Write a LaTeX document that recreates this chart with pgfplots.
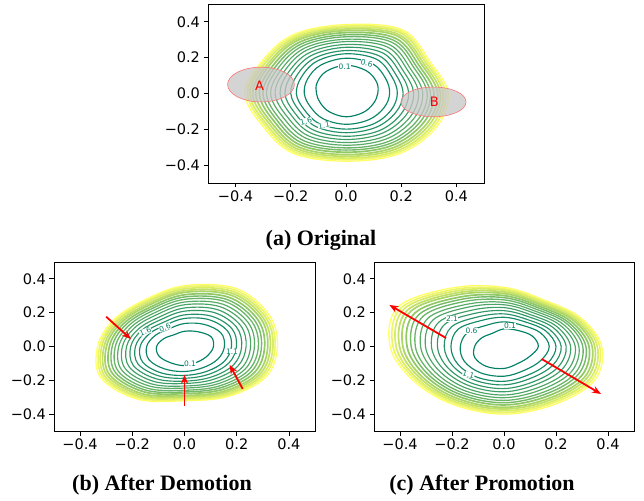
\documentclass[border=0pt]{standalone}
\usepackage{fontspec}
\setmainfont{Liberation Serif}
\newfontfamily\dejavu{DejaVu Sans}
\usepackage{pgfplots}
\pgfplotsset{compat=1.18}
\usepackage{pgfplotstable}
\usetikzlibrary{arrows.meta}

\definecolor{gn}{rgb}{0,0.5,0.4}
\definecolor{yl}{rgb}{1,1,0.4}
\tikzset{
  rg0/.style={draw=yl!0!gn, line width=1.15pt},
  rg1/.style={draw=yl!4!gn, line width=1.15pt},
  rg2/.style={draw=yl!8!gn, line width=1.15pt},
  rg3/.style={draw=yl!14!gn, line width=1.15pt},
  rg4/.style={draw=yl!19!gn, line width=1.15pt},
  rg5/.style={draw=yl!24!gn, line width=1.15pt},
  rg6/.style={draw=yl!29!gn, line width=1.15pt},
  rg7/.style={draw=yl!35!gn, line width=1.2pt},
  rg8/.style={draw=yl!41!gn, line width=1.3pt},
  rg9/.style={draw=yl!46!gn, line width=1.4pt},
  rg10/.style={draw=yl!57!gn, line width=1.7pt},
  rg11/.style={draw=yl!67!gn, line width=1.7pt},
  rg12/.style={draw=yl!76!gn, line width=1.7pt},
  rg13/.style={draw=yl!85!gn, line width=1.7pt},
  rg14/.style={draw=yl!93!gn, line width=1.6pt},
  rg15/.style={draw=yl!100!gn, line width=1.3pt},
}

% polar contour radii: angle a (deg), radius of ring r0 (innermost, 0.1) ... r15 (outermost)
\pgfplotstableread{
a r0 r1 r2 r3 r4 r5 r6 r7 r8 r9 r10 r11 r12 r13 r14 r15
0 .115 .158 .186 .207 .227 .245 .263 .278 .294 .306 .319 .332 .342 .352 .361 .370
30 .128 .166 .191 .209 .227 .242 .258 .271 .285 .296 .307 .318 .327 .336 .344 .352
60 .147 .192 .221 .242 .263 .281 .300 .315 .331 .344 .357 .371 .381 .392 .401 .410
90 .158 .197 .222 .240 .258 .274 .290 .303 .317 .328 .340 .351 .360 .369 .377 .385
120 .143 .183 .209 .228 .247 .264 .281 .295 .309 .321 .333 .345 .354 .363 .372 .380
150 .121 .161 .186 .205 .224 .240 .256 .270 .284 .296 .307 .319 .328 .338 .346 .354
180 .107 .151 .180 .200 .221 .239 .257 .273 .288 .301 .314 .327 .338 .348 .357 .366
210 .107 .149 .176 .195 .215 .232 .249 .264 .279 .291 .303 .315 .325 .335 .343 .352
240 .119 .164 .194 .215 .236 .255 .273 .289 .305 .319 .332 .345 .356 .366 .376 .385
270 .130 .172 .199 .219 .239 .257 .274 .289 .304 .316 .328 .341 .351 .361 .369 .378
300 .123 .168 .197 .218 .240 .258 .277 .293 .309 .322 .335 .348 .359 .370 .379 .388
330 .114 .159 .188 .209 .230 .249 .267 .283 .299 .312 .325 .338 .349 .360 .369 .378
}\tabA
\pgfplotstableread{
a r0 r1 r2 r3 r4 r5 r6 r7 r8 r9 r10 r11 r12 r13 r14 r15
0 .111 .153 .180 .199 .219 .236 .253 .268 .283 .295 .307 .319 .329 .339 .347 .356
30 .117 .161 .189 .210 .230 .248 .266 .282 .297 .310 .323 .336 .346 .356 .365 .374
60 .101 .151 .184 .207 .231 .252 .272 .290 .308 .322 .337 .352 .364 .375 .386 .396
90 .090 .136 .166 .187 .209 .228 .247 .263 .279 .293 .306 .320 .330 .341 .351 .360
120 .080 .120 .146 .164 .183 .199 .216 .230 .244 .256 .267 .279 .288 .298 .306 .314
150 .092 .130 .154 .172 .190 .205 .221 .234 .247 .259 .270 .281 .290 .299 .306 .314
180 .107 .145 .170 .188 .206 .222 .238 .252 .265 .277 .288 .299 .308 .317 .325 .333
210 .113 .157 .185 .206 .226 .244 .262 .278 .293 .306 .319 .332 .342 .352 .361 .370
240 .110 .153 .180 .200 .220 .238 .255 .270 .285 .298 .310 .323 .333 .343 .351 .360
270 .113 .148 .171 .188 .205 .219 .234 .246 .259 .269 .279 .290 .298 .306 .314 .321
300 .104 .144 .170 .189 .208 .224 .241 .255 .269 .281 .293 .305 .314 .324 .332 .340
330 .104 .148 .176 .196 .217 .235 .253 .268 .283 .296 .309 .322 .332 .342 .351 .360
}\tabB
\pgfplotstableread{
a r0 r1 r2 r3 r4 r5 r6 r7 r8 r9 r10 r11 r12 r13 r14 r15
0 .132 .174 .200 .220 .239 .256 .274 .288 .303 .315 .327 .339 .349 .359 .368 .376
30 .125 .162 .185 .202 .220 .235 .250 .263 .276 .286 .297 .308 .316 .325 .333 .340
60 .109 .144 .167 .183 .200 .214 .229 .241 .253 .264 .274 .284 .292 .301 .308 .315
90 .104 .146 .173 .193 .212 .230 .247 .261 .276 .289 .301 .313 .323 .333 .341 .350
120 .090 .143 .177 .202 .226 .248 .270 .288 .307 .323 .338 .354 .366 .378 .389 .400
150 .100 .163 .204 .233 .263 .289 .315 .337 .359 .378 .396 .415 .429 .444 .457 .470
180 .113 .168 .204 .230 .256 .279 .302 .321 .341 .357 .373 .389 .402 .415 .427 .438
210 .130 .176 .206 .228 .250 .269 .288 .305 .321 .335 .348 .362 .373 .384 .393 .403
240 .136 .180 .209 .229 .250 .268 .286 .302 .317 .330 .343 .356 .367 .377 .386 .395
270 .130 .176 .206 .227 .249 .268 .287 .303 .319 .333 .346 .360 .370 .381 .391 .400
300 .113 .161 .192 .214 .237 .256 .276 .293 .310 .324 .338 .352 .363 .374 .384 .394
330 .115 .164 .195 .218 .241 .261 .282 .299 .316 .330 .345 .359 .370 .382 .392 .402
}\tabC

\newcommand{\drawrings}[1]{%
  \pgfplotsinvokeforeach{15,14,13,12,11,10,9,8,7,6,5,4,3,2,1,0}{%
    \addplot[smooth cycle, tension=0.6, data cs=polar, mark=none, rg##1] table[x=a, y=r##1] {#1};%
  }%
}

\pgfplotsset{
  panel/.style={
    scale only axis, anchor=south west,
    xmin=-0.5, xmax=0.5, ymin=-0.5, ymax=0.5,
    axis line style={line width=0.8pt},
    tick align=outside, tick pos=left, major tick length=4.5pt,
    every tick/.style={black, line width=0.8pt},
    xtick={-0.4,-0.2,0,0.2,0.4}, ytick={-0.4,-0.2,0,0.2,0.4},
    xticklabels={−0.4,−0.2,0.0,0.2,0.4},
    yticklabels={−0.4,−0.2,0.0,0.2,0.4},
    tick label style={font=\dejavu\fontsize{14.5}{16}\selectfont},
  },
}
\tikzset{
  clab/.style={font=\dejavu\fontsize{7.5}{8}\selectfont, text=gn, fill=white, inner sep=0.2pt},
  redarrow/.style={red, line width=1.8pt, -{Stealth[length=9pt,width=7pt]}},
}

\begin{document}
\begin{tikzpicture}
\useasboundingbox (0pt,0pt) rectangle (644pt,500pt);

% (a) Original
\begin{axis}[panel, at={(208pt,317pt)}, width=276pt, height=179pt]
\drawrings{\tabA}
\node[clab] at (axis cs:-0.005,0.152) {0.1};
\node[clab, rotate=-12] at (axis cs:0.075,0.168) {0.6};
\node[clab, rotate=15] at (axis cs:-0.145,-0.155) {1.6};
\node[clab, rotate=10] at (axis cs:-0.08,-0.178) {1.1};
\draw[draw=red!55, fill=gray!45, fill opacity=0.75, line width=0.6pt] (axis cs:-0.308,0.05) ellipse [x radius=0.121, y radius=0.097];
\draw[draw=red!55, fill=gray!45, fill opacity=0.75, line width=0.6pt] (axis cs:0.317,-0.047) ellipse [x radius=0.118, y radius=0.083];
\node[text=red, font=\dejavu\fontsize{13}{14}\selectfont] at (axis cs:-0.313,0.041) {A};
\node[text=red, font=\dejavu\fontsize{13}{14}\selectfont] at (axis cs:0.32,-0.047) {B};
\end{axis}

% (b) After Demotion
\begin{axis}[panel, at={(54pt,69pt)}, width=261pt, height=169pt]
\drawrings{\tabB}
\node[clab] at (axis cs:0.021,-0.104) {0.1};
\node[clab, rotate=20] at (axis cs:-0.075,0.112) {0.6};
\node[clab, rotate=20] at (axis cs:-0.15,0.088) {1.6};
\node[clab] at (axis cs:0.182,-0.03) {1.1};
\draw[redarrow] (axis cs:-0.30,0.176) -- (axis cs:-0.205,0.044);
\draw[redarrow] (axis cs:0,-0.35) -- (axis cs:0,-0.167);
\draw[redarrow] (axis cs:0.223,-0.251) -- (axis cs:0.173,-0.109);
\end{axis}

% (c) After Promotion
\begin{axis}[panel, at={(374pt,69pt)}, width=260pt, height=169pt]
\drawrings{\tabC}
\node[clab] at (axis cs:0.023,0.123) {0.1};
\node[clab] at (axis cs:-0.125,0.092) {0.6};
\node[clab] at (axis cs:-0.2,0.165) {2.1};
\node[clab, rotate=-15] at (axis cs:-0.137,-0.167) {1.1};
\draw[redarrow] (axis cs:-0.223,0.05) -- (axis cs:-0.441,0.246);
\draw[redarrow] (axis cs:0.145,-0.074) -- (axis cs:0.373,-0.281);
\end{axis}

\node[font=\bfseries\fontsize{22}{26}\selectfont] at (321pt,260pt) {(a) Original};
\node[font=\bfseries\fontsize{22}{26}\selectfont] at (162pt,15pt) {(b) After Demotion};
\node[font=\bfseries\fontsize{22}{26}\selectfont] at (482pt,15pt) {(c) After Promotion};
\end{tikzpicture}
\end{document}
